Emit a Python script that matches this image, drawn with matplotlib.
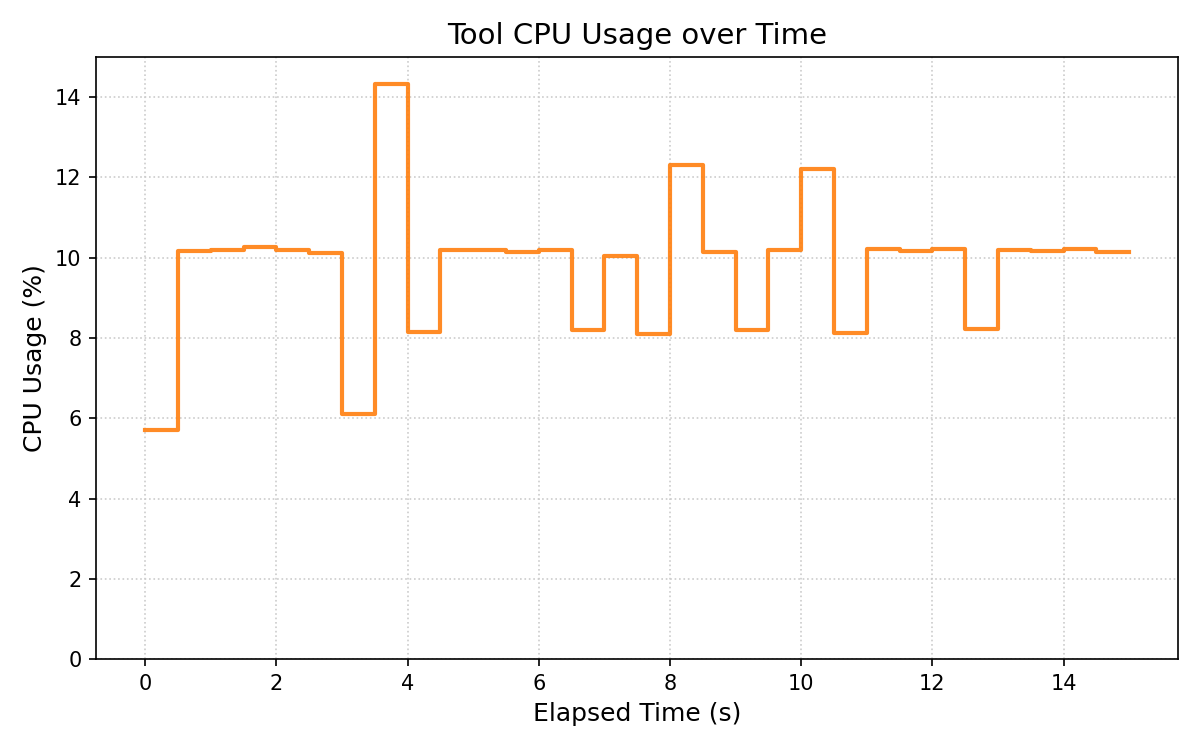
import numpy as np
import matplotlib.pyplot as plt

# elapsed time samples (s) and cpu usage (%)
elapsed = np.arange(0, 15.5, 0.5)
cpu = [5.72, 10.18, 10.2, 10.28, 10.2, 10.13, 6.12, 14.32, 8.15, 10.2,
       10.2, 10.15, 10.2, 8.2, 10.05, 8.1, 12.32, 10.15, 8.2, 10.2,
       12.22, 8.12, 10.22, 10.18, 10.22, 8.22, 10.2, 10.18, 10.22, 10.15,
       10.15]

fig, ax = plt.subplots(figsize=(8, 5), dpi=150)
ax.step(elapsed, cpu, where='post', color='C1', alpha=0.9, linewidth=2)
ax.set_ylim(0, 15)
ax.set_title('Tool CPU Usage over Time', fontsize=14)
ax.set_xlabel('Elapsed Time (s)', fontsize=12)
ax.set_ylabel('CPU Usage (%)', fontsize=12)
ax.grid(True, linestyle=':', color='#cccccc', linewidth=0.8)
fig.subplots_adjust(left=0.08, right=0.982, bottom=0.121, top=0.924)
fig.savefig('out.png')
